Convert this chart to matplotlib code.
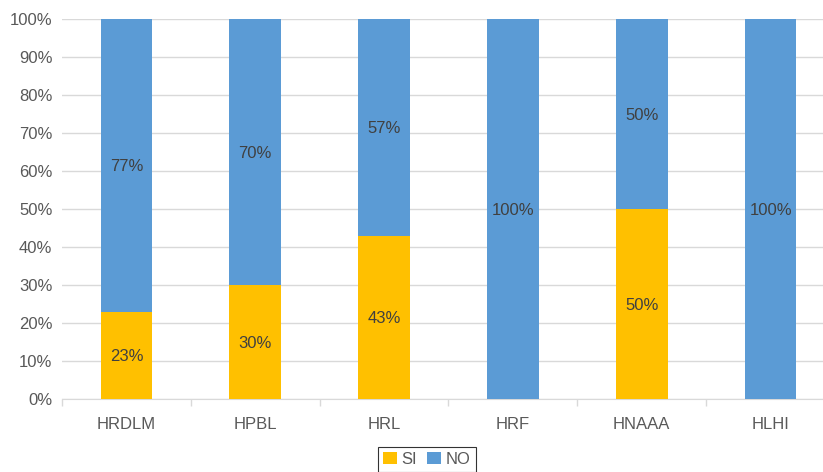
import numpy as np
import matplotlib.pyplot as plt

plt.rcParams['font.family'] = ['Liberation Sans', 'DejaVu Sans']

categories = ['HRDLM', 'HPBL', 'HRL', 'HRF', 'HNAAA', 'HLHI']
si = [23, 30, 43, 0, 50, 0]
no = [77, 70, 57, 100, 50, 100]

c_si = '#FFC000'
c_no = '#5B9BD5'
txt = '#404040'
fs = 12

fig = plt.figure(figsize=(8.23, 4.72), dpi=100)
ax = fig.add_axes([62 / 823, 1 - 399 / 472, 773 / 823, 380 / 472])

x = np.arange(len(categories))
b1 = ax.bar(x, si, width=0.4, color=c_si, label='SI', zorder=3)
b2 = ax.bar(x, no, width=0.4, bottom=si, color=c_no, label='NO', zorder=3)

for i in range(len(categories)):
    if si[i] > 0:
        ax.text(x[i], si[i] / 2, f'{si[i]}%', ha='center', va='center_baseline',
                fontsize=fs, color=txt, zorder=4)
    if no[i] > 0:
        ax.text(x[i], si[i] + no[i] / 2, f'{no[i]}%', ha='center', va='center_baseline',
                fontsize=fs, color=txt, zorder=4)

ax.set_xlim(-0.5, len(categories) - 0.5)
ax.set_ylim(0, 100)
ax.set_yticks(range(0, 101, 10))
ax.set_yticklabels([f'{v}%' for v in range(0, 101, 10)], fontsize=fs, color='#595959')
ax.set_xticks(x)
ax.set_xticklabels(categories, fontsize=fs, color='#595959')
ax.tick_params(axis='x', length=0, pad=13)
ax.tick_params(axis='y', length=0, pad=7)
# category separators below the axis line
ax.set_xticks(np.arange(-0.5, len(categories), 1), minor=True)
ax.tick_params(axis='x', which='minor', length=5, color='#D9D9D9', width=1)

ax.grid(axis='y', color='#D9D9D9', linewidth=1, zorder=0)
for s in ['top', 'right', 'left']:
    ax.spines[s].set_visible(False)
ax.spines['bottom'].set_color('#D9D9D9')

leg = fig.legend(handles=[b1, b2], labels=['SI', 'NO'], loc='lower center',
                 bbox_to_anchor=(427 / 823, -8 / 472), ncol=2, frameon=True,
                 fancybox=False, edgecolor='black', fontsize=fs,
                 handlelength=0.8, handleheight=0.8, handletextpad=0.3,
                 columnspacing=0.6, borderpad=0.3)
leg.get_frame().set_linewidth(0.8)
for t in leg.get_texts():
    t.set_color('#595959')

fig.savefig('out.png', dpi=100)
